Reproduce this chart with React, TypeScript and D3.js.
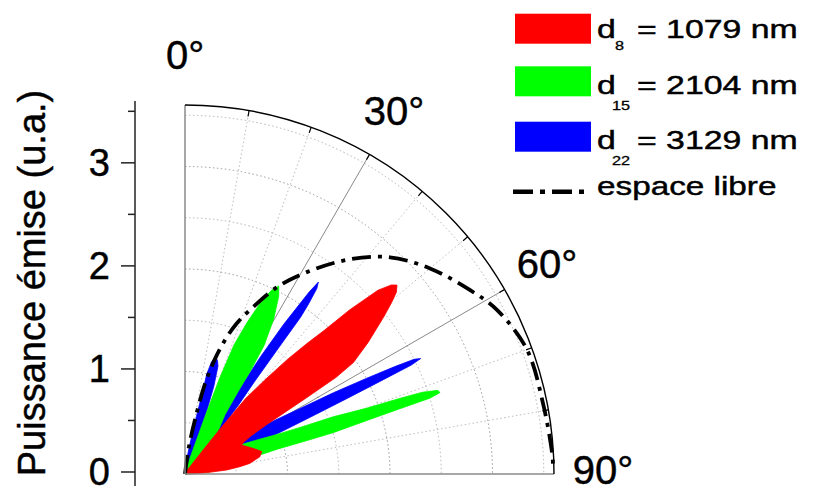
import React from 'react';
import * as d3 from 'd3';

type P = [number, number]; // [angle in degrees from vertical, emitted power (u.a.)]

// d8 = 1079 nm (red)
const d8Power: P[] = [
  [0, 0], [20, 0.02], [30, 0.05], [35, 0.1], [37, 0.3], [38, 0.6], [38.8, 0.95], [40.3, 1.2],
  [41.8, 1.5], [43.1, 1.75], [44.1, 1.95], [45.1, 2.27], [46.4, 2.6], [47.5, 2.73], [48.3, 2.77],
  [49.3, 2.72], [50.3, 2.62], [51.6, 2.48], [54.3, 2.2], [56.5, 1.97], [57.4, 1.75], [57.9, 1.4],
  [58.4, 1.1], [58.9, 0.92], [60, 0.75], [61.5, 0.65], [63, 0.62], [66, 0.66], [70, 0.72],
  [73.7, 0.78], [77, 0.75], [80.7, 0.64], [82.4, 0.54], [84.5, 0.41], [86.8, 0.2], [88.5, 0.08], [90, 0],
];

// d15 = 2104 nm (green)
const d15Power: P[] = [
  [0, 0], [10, 0.02], [15, 0.06], [17, 0.12], [18.3, 0.25], [19.2, 0.6], [19.9, 1.0], [20.8, 1.35],
  [22.3, 1.6], [23.8, 1.83], [25.2, 1.98], [26.5, 2.05], [27.8, 1.96], [29.8, 1.74], [31.6, 1.47],
  [32.4, 1.2], [32.8, 0.95], [34, 0.7], [37, 0.55], [40, 0.4], [50, 0.35], [58, 0.45], [62, 0.6],
  [65, 0.8], [66.6, 0.96], [68, 1.22], [68.9, 1.55], [70.1, 1.89], [70.6, 2.22], [71, 2.45],
  [71.7, 2.6], [72.3, 2.61], [72.8, 2.5], [73.1, 2.19], [73.6, 1.85], [74.4, 1.5], [74.7, 1.2],
  [74.9, 0.95], [76, 0.7], [80, 0.45], [85, 0.25], [90, 0],
];

// d22 = 3129 nm (blue)
const d22Power: P[] = [
  [0, 0], [5, 0.04], [8, 0.2], [10, 0.37], [11.2, 0.57], [12, 0.77], [12.3, 1.0], [13.3, 1.12],
  [14.7, 1.18], [16, 1.15], [17, 1.1], [18.2, 0.9], [19, 0.66], [20, 0.4], [22, 0.2], [28, 0.15],
  [31.5, 0.4], [32.5, 0.82], [32.6, 1.05], [32.8, 1.36], [33.4, 1.75], [33.9, 1.95], [34.3, 2.15],
  [34.8, 2.28], [35.4, 2.22], [36, 2.05], [36.4, 1.9], [36.6, 1.5], [37, 1.1], [37.8, 0.85],
  [39, 0.4], [45, 0.25], [55, 0.3], [58, 0.75], [58.7, 0.95], [60, 1.2], [60.7, 1.4], [61.3, 1.65],
  [62.2, 2.0], [62.9, 2.3], [63.4, 2.5], [63.9, 2.56], [64.3, 2.45], [64.6, 2.1], [65, 1.75],
  [65.5, 1.4], [66, 1.15], [66.5, 0.95], [68, 0.7], [72, 0.4], [80, 0.2], [90, 0],
];

// free space emission (dash-dot)
const freeSpace: P[] = [
  [4, 0], [8, 0.25], [10.5, 0.55], [12.5, 0.9], [14.5, 1.15], [16.7, 1.37], [18.9, 1.55],
  [21.6, 1.72], [26.2, 2.03], [31.1, 2.3], [37.5, 2.64], [43.4, 2.91], [50, 3.12], [57.2, 3.31],
  [62.3, 3.44], [70, 3.55], [78.8, 3.56], [87.4, 3.59], [89.5, 3.59],
];

const yMajorTicks = [0, 1, 2, 3];
const yMinorTicks = [0.5, 1.5, 2.5, 3.5];
const angleLabels = [0, 30, 60, 90];
const gridRadii = [0.5, 1, 1.5, 2, 2.5, 3, 3.5];
const dottedAngles = [10, 20, 40, 50, 70, 80];
const solidAngles = [30, 60];
const arcTickAngles = [10, 20, 30, 40, 50, 60, 70, 80];

const legendColors = ['#ff0000', '#00ff00', '#0000ff'];
const legendSubs = ['8', '15', '22'];
const legendValues = ['= 1079 nm', '= 2104 nm', '= 3129 nm'];
const freeSpaceLabel = 'espace libre';
const yLabel = 'Puissance émise (u.a.)';

const FONT = "'Liberation Sans', Arial, sans-serif";

export default function App() {
  const cx = 185;
  const cy = 474;
  const rMax = 3.6;
  const r = d3.scaleLinear().domain([0, rMax]).range([0, 369]);
  const y = d3.scaleLinear().domain([0, rMax]).range([472, 101]);
  const rad = (deg: number) => (deg * Math.PI) / 180;
  const pt = (deg: number, px: number): [number, number] => [
    cx + px * Math.sin(rad(deg)),
    cy - px * Math.cos(rad(deg)),
  ];

  const area = d3
    .areaRadial<P>()
    .angle((d) => rad(d[0]))
    .innerRadius(0)
    .outerRadius((d) => r(d[1]))
    .curve(d3.curveLinear);

  const freeLine = d3
    .lineRadial<P>()
    .angle((d) => rad(d[0]))
    .radius((d) => r(d[1]))
    .curve(d3.curveCatmullRom.alpha(0.5));

  const arcPath = (px: number) => {
    const [x0, y0] = pt(0, px);
    const [x1, y1] = pt(90, px);
    return `M${x0},${y0} A${px},${px} 0 0 1 ${x1},${y1}`;
  };

  const series = [
    { data: d22Power, color: '#0000ff' },
    { data: d15Power, color: '#00ff00' },
    { data: d8Power, color: '#ff0000' },
  ];

  const legendRowCenters = [28.7, 81.3, 136.7, 191.7];
  const legendBaselines = [38, 94, 149, 195];
  const legendSubDy = [12, 16, 16];
  const sx = 1.3;
  const txt = { fill: '#000', stroke: '#000', strokeWidth: 0.45 };

  return (
    <div style={{ position: 'absolute', left: 0, top: 0 }}>
      <svg width={817} height={486} style={{ display: 'block', background: '#fff' }} fontFamily={FONT}>
        {/* polar grid */}
        <g>
          {gridRadii.map((g) => (
            <path
              key={'c' + g}
              d={arcPath(r(g))}
              fill="none"
              stroke={Number.isInteger(g) ? '#9a9a9a' : '#b4b4b4'}
              strokeWidth={1}
              strokeDasharray="1.5,2.5"
            />
          ))}
          {dottedAngles.map((a) => {
            const [x1, y1] = pt(a, r(rMax));
            return (
              <line key={'da' + a} x1={cx} y1={cy} x2={x1} y2={y1} stroke="#bdbdbd" strokeWidth={1} strokeDasharray="1.5,2.5" />
            );
          })}
          {solidAngles.map((a) => {
            const [x1, y1] = pt(a, r(rMax));
            return <line key={'sa' + a} x1={cx} y1={cy} x2={x1} y2={y1} stroke="#8a8a8a" strokeWidth={1} />;
          })}
        </g>

        {/* emission lobes */}
        <g transform={`translate(${cx},${cy})`}>
          {series.map((s, i) => (
            <path key={i} d={area(s.data) || ''} fill={s.color} stroke={s.color} strokeWidth={0.8} />
          ))}
          <path
            d={freeLine(freeSpace) || ''}
            fill="none"
            stroke="#000"
            strokeWidth={3.8}
            strokeDasharray="19,7,4,7"
          />
        </g>

        {/* polar frame */}
        <line x1={cx} y1={cy} x2={cx} y2={cy - r(rMax)} stroke="#8a8a8a" strokeWidth={1.5} />
        <line x1={cx} y1={cy} x2={cx + r(rMax)} y2={cy} stroke="#8a8a8a" strokeWidth={1.5} />
        <path d={arcPath(r(rMax))} fill="none" stroke="#000" strokeWidth={1.4} />
        {arcTickAngles.map((a) => {
          const [x1, y1] = pt(a, r(rMax));
          const [x2, y2] = pt(a, r(rMax) - 6);
          return <line key={'t' + a} x1={x1} y1={y1} x2={x2} y2={y2} stroke="#000" strokeWidth={1.2} />;
        })}
        {angleLabels.map((a) => {
          const [x, yy] = pt(a, 418);
          return (
            <text key={'al' + a} x={x} y={Math.min(yy + 13, 484)} textAnchor="middle" fontSize={40} {...txt}>
              {a}°
            </text>
          );
        })}

        {/* left axis */}
        <line x1={135} y1={y(rMax)} x2={135} y2={490} stroke="#222" strokeWidth={1.5} />
        {yMajorTicks.map((t) => (
          <g key={'ym' + t}>
            <line x1={121} y1={y(t)} x2={135} y2={y(t)} stroke="#222" strokeWidth={1.5} />
            <text x={110} y={Math.min(y(t) + 13.5, 484.5)} textAnchor="end" fontSize={38} {...txt}>
              {t}
            </text>
          </g>
        ))}
        {yMinorTicks.map((t) => (
          <line key={'yn' + t} x1={128} y1={y(t)} x2={135} y2={y(t)} stroke="#222" strokeWidth={1.5} />
        ))}
        <text transform="translate(45,283) rotate(-90)" textAnchor="middle" fontSize={38} {...txt}>
          {yLabel}
        </text>

        {/* legend */}
        {legendColors.map((c, i) => (
          <g key={'lg' + i}>
            <rect x={515} y={legendRowCenters[i] - 15} width={76} height={30} fill={c} />
            <text transform={`translate(597,${legendBaselines[i]}) scale(${sx},1)`} fontSize={26} {...txt}>
              <tspan x={0} y={0}>d</tspan>
              <tspan x={(legendSubs[i].length > 1 ? 15 : 18) / sx} y={legendSubDy[i]} fontSize={12.5} strokeWidth={0.3}>
                {legendSubs[i]}
              </tspan>
              <tspan x={40 / sx} y={0}>{legendValues[i]}</tspan>
            </text>
          </g>
        ))}
        <line x1={513} y1={legendRowCenters[3]} x2={587} y2={legendRowCenters[3]} stroke="#000" strokeWidth={4.5} strokeDasharray="20,7,5,7" />
        <text transform={`translate(597,${legendBaselines[3]}) scale(1.28,1)`} fontSize={26} {...txt}>
          {freeSpaceLabel}
        </text>
      </svg>
    </div>
  );
}
